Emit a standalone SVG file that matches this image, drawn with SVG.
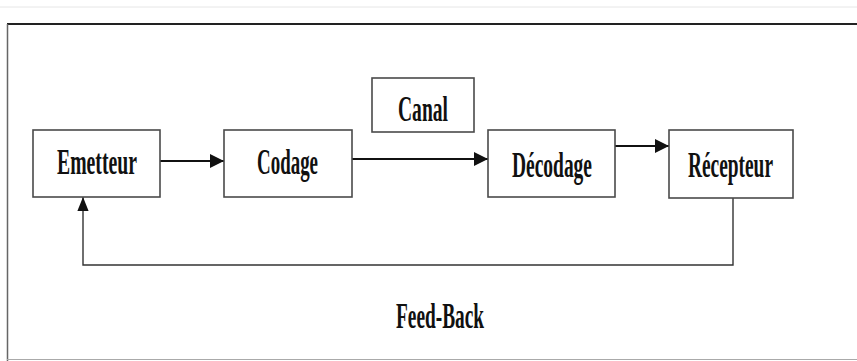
<svg xmlns="http://www.w3.org/2000/svg" width="857" height="361" viewBox="0 0 857 361">
  <style>
    .box { fill: #ffffff; stroke: #4a4a4a; stroke-width: 1.6; }
    .lbl { font-family: "Liberation Serif", "Times New Roman", serif; font-weight: bold; font-size: 36px; fill: #111; text-anchor: start; }
    .wire { fill: none; stroke: #111; stroke-width: 2; }
    .thin { fill: none; stroke: #333; stroke-width: 1.4; }
  </style>
  <defs>
    <marker id="arr" viewBox="0 0 10 10" refX="10" refY="5" markerWidth="7" markerHeight="7" markerUnits="strokeWidth" orient="auto">
      <path d="M0,0 L10,5 L0,10 z" fill="#111"/>
    </marker>
    <marker id="arrThin" viewBox="0 0 10 10" refX="10" refY="5" markerWidth="10" markerHeight="10" markerUnits="strokeWidth" orient="auto">
      <path d="M0,1 L10,5 L0,9 z" fill="#111"/>
    </marker>
  </defs>

  <rect width="857" height="361" fill="#ffffff"/>

  <!-- frame -->
  <g id="frame">
    <line x1="0" y1="7" x2="857" y2="7" stroke="#e6e6e6" stroke-width="1"/>
    <line x1="7" y1="24" x2="857" y2="24" stroke="#222" stroke-width="2.2"/>
    <line x1="7.5" y1="24" x2="7.5" y2="361" stroke="#666" stroke-width="1.5"/>
    <line x1="7" y1="359.5" x2="857" y2="359.5" stroke="#aaa" stroke-width="1"/>
  </g>

  <!-- connectors -->
  <g id="connectors">
    <line class="wire" x1="160" y1="161" x2="224" y2="161" marker-end="url(#arr)"/>
    <line class="wire" x1="352" y1="159" x2="488" y2="159" marker-end="url(#arr)"/>
    <line class="wire" x1="615" y1="146" x2="669" y2="146" stroke-width="2.6" marker-end="url(#arr)"/>
    <polyline class="thin" points="733,198 733,265 83,265 83,197" marker-end="url(#arrThin)"/>
  </g>

  <g id="emetteur">
    <rect class="box" x="33" y="130" width="127" height="67"/>
    <text class="lbl" x="57" y="174" textLength="80" lengthAdjust="spacingAndGlyphs">Emetteur</text>
  </g>

  <g id="codage">
    <rect class="box" x="224" y="130" width="128" height="67"/>
    <text class="lbl" x="257" y="174" textLength="61" lengthAdjust="spacingAndGlyphs">Codage</text>
  </g>

  <g id="canal">
    <rect class="box" x="372" y="78" width="102" height="54"/>
    <text class="lbl" x="398" y="121" textLength="50" lengthAdjust="spacingAndGlyphs">Canal</text>
  </g>

  <g id="decodage">
    <rect class="box" x="488" y="130" width="127" height="67"/>
    <text class="lbl" x="512" y="177" textLength="80" lengthAdjust="spacingAndGlyphs">Décodage</text>
  </g>

  <g id="recepteur">
    <rect class="box" x="669" y="130" width="124" height="68"/>
    <text class="lbl" x="688" y="177" textLength="85" lengthAdjust="spacingAndGlyphs">Récepteur</text>
  </g>

  <g id="feedback">
    <text class="lbl" x="396" y="328" textLength="88" lengthAdjust="spacingAndGlyphs">Feed-Back</text>
  </g>
</svg>
